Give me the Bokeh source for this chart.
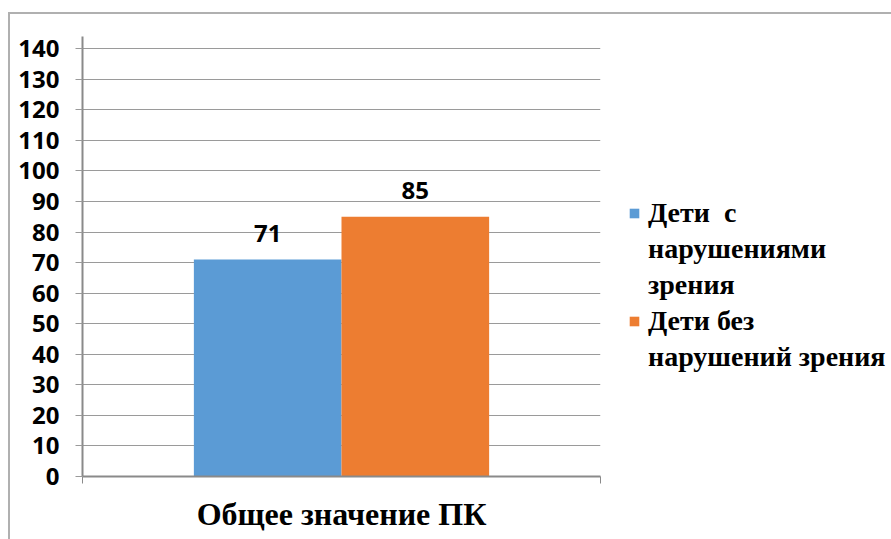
from bokeh.plotting import figure
from bokeh.models import (FactorRange, Range1d, FixedTicker,
                          Legend, LegendItem, LabelSet, ColumnDataSource)
from bokeh.transform import dodge
from bokeh.core.properties import value
from bokeh.embed import file_html
from bokeh.resources import INLINE

# ---- data ----
categories = ["Общее значение ПК"]
series_labels = ["Дети  с\nнарушениями\nзрения", "Дети без\nнарушений зрения"]
impaired = [71]
unimpaired = [85]
y_ticks = [0, 10, 20, 30, 40, 50, 60, 70, 80, 90, 100, 110, 120, 130, 140]
colors = ["#5B9BD5", "#ED7D31"]

BAR_W = 0.285
OFF = BAR_W / 2
GRID = "#9a9a9a"
AXIS = "#8a8a8a"
BORDER = "#b0b0b0"

# categorical mapping (factor -> synthetic coordinate 0..1)
cat_range = FactorRange(factors=categories, range_padding=0)

p = figure(x_range=Range1d(0, len(categories)),
           y_range=Range1d(0, 144),
           frame_width=518, frame_height=440,
           min_border_left=82, min_border_right=291, min_border_top=36, min_border_bottom=63,
           output_backend="svg", toolbar_location=None,
           outline_line_color=None)
p.background_fill_color = "white"
p.border_fill_color = None
p.styles = {
    "background-color": "white",
    "background-image": f"linear-gradient({BORDER},{BORDER}), linear-gradient({BORDER},{BORDER})",
    "background-position": "9px 12px, 8px 12px",
    "background-size": "882px 2px, 2px 527px",
    "background-repeat": "no-repeat, no-repeat",
}

src1 = ColumnDataSource(dict(cat=categories, val=impaired, lab=[str(v) for v in impaired]))
src2 = ColumnDataSource(dict(cat=categories, val=unimpaired, lab=[str(v) for v in unimpaired]))

r1 = p.vbar(x=dodge("cat", -OFF, range=cat_range), top="val", width=BAR_W, source=src1,
            fill_color=colors[0], line_color=None)
r2 = p.vbar(x=dodge("cat", OFF, range=cat_range), top="val", width=BAR_W, source=src2,
            fill_color=colors[1], line_color=None)

for src, off in ((src1, -OFF), (src2, OFF)):
    p.add_layout(LabelSet(x=dodge("cat", off, range=cat_range), y="val", text="lab", source=src,
                          text_align="center", text_baseline="bottom", y_offset=18,
                          text_font=value("Open Sans"), text_font_style="bold",
                          text_font_size="24px", text_color="black"))

# y axis
ya = p.yaxis[0]
ya.ticker = FixedTicker(ticks=y_ticks)
ya.major_label_text_font = "Open Sans"
ya.major_label_text_font_style = "bold"
ya.major_label_text_font_size = "24px"
ya.major_label_text_color = "black"
ya.major_label_standoff = 16
ya.major_tick_in = 0
ya.major_tick_out = 7
ya.minor_tick_line_color = None
ya.axis_line_color = AXIS
ya.axis_line_width = 2
ya.major_tick_line_color = GRID

p.ygrid.grid_line_color = GRID
p.ygrid.grid_line_width = 1
p.xgrid.visible = False

# x axis: ticks at category edges, category name as label
xa = p.xaxis[0]
xa.ticker = FixedTicker(ticks=[0, 1])
xa.major_label_overrides = {0: "", 1: ""}
xa.major_label_text_font_size = "0px"
xa.major_label_standoff = 0
xa.major_tick_in = 0
xa.major_tick_out = 7
xa.minor_tick_line_color = None
xa.axis_line_color = AXIS
xa.axis_line_width = 2
xa.major_tick_line_color = AXIS
xa.axis_label = categories[0]
xa.axis_label_text_font = "Liberation Serif"
xa.axis_label_text_font_style = "bold"
xa.axis_label_text_font_size = "32px"
xa.axis_label_text_color = "black"
xa.axis_label_standoff = 12

# legend: one row per text line, swatch on the first line of each series
items = []
for label, rend in zip(series_labels, (r1, r2)):
    lines = label.split("\n")
    items.append(LegendItem(label=lines[0], renderers=[rend]))
    for ln in lines[1:]:
        items.append(LegendItem(label=ln, renderers=[]))

legend = Legend(items=items,
                location=(28, 102), padding=0, margin=0, spacing=2,
                glyph_width=12, glyph_height=12, label_standoff=8, label_height=34,
                label_text_font="Liberation Serif", label_text_font_style="bold",
                label_text_font_size="28px", label_text_color="black",
                border_line_color=None, background_fill_alpha=0)
p.add_layout(legend, "right")

open("out.html", "w").write(file_html(p, INLINE))
